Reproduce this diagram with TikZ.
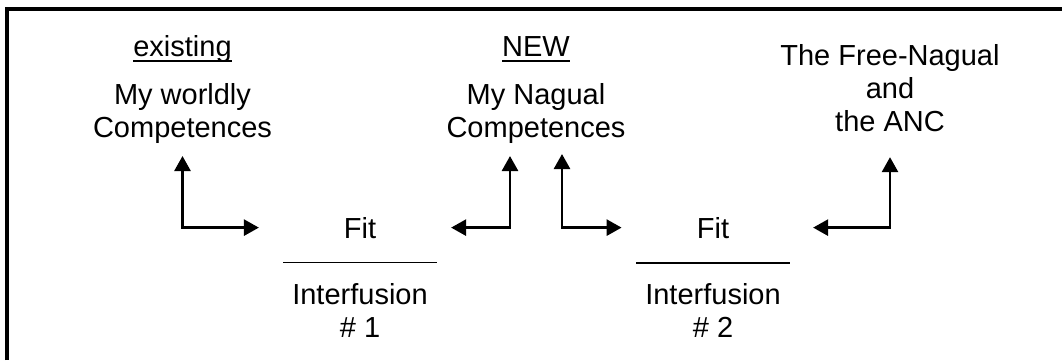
\documentclass[tikz,border=0pt]{standalone}
\usepackage{fontspec}
\setmainfont{Liberation Sans}
\usetikzlibrary{arrows.meta}
\begin{document}
\begin{tikzpicture}[x=1pt,y=-1pt,
  txt/.style={inner sep=0pt, outer sep=0pt, align=center, font=\fontsize{29}{33}\selectfont},
  uline/.style={line width=2pt},
  fracrule/.style={line width=1.8pt},
  frame/.style={line width=4pt},
  biarrow/.style={line width=2.7pt, {Triangle[length=15pt,width=16pt]}-{Triangle[length=15pt,width=16pt]}}]
\useasboundingbox (0,0) rectangle (1062,360);
\draw[frame] (7,360) -- (7,9) -- (1062,9);

\node[txt, anchor=base] (ex) at (182.5,56) {existing};
\draw[uline] ([yshift=-4.5pt]ex.base west) -- ([yshift=-4.5pt]ex.base east);
\node[txt] (wc) at (182.5,113) {My worldly\\Competences};

\node[txt, anchor=base] (new) at (536,56) {NEW};
\draw[uline] ([yshift=-4.5pt]new.base west) -- ([yshift=-4.5pt]new.base east);
\node[txt] (nc) at (536,113) {My Nagual\\Competences};

\node[txt] (fn) at (890,88.5) {The Free-Nagual\\and\\the ANC};

\node[txt, anchor=base] (fit1) at (360,238) {Fit};
\draw[fracrule] ([xshift=-77pt,yshift=-24.5pt]fit1.base) -- ([xshift=77pt,yshift=-24.5pt]fit1.base);
\node[txt] (if1) at (360,310) {Interfusion\\\# 1};

\node[txt, anchor=base] (fit2) at (713,238) {Fit};
\draw[fracrule] ([xshift=-77pt,yshift=-25pt]fit2.base) -- ([xshift=77pt,yshift=-25pt]fit2.base);
\node[txt] (if2) at (713,310) {Interfusion\\\# 2};

\draw[biarrow] ([yshift=-13pt]wc.south) |- ([xshift=-85pt]fit1.west);
\draw[biarrow] ([xshift=-26pt,yshift=-13pt]nc.south) |- ([xshift=75pt]fit1.east);
\draw[biarrow] ([xshift=26pt,yshift=-11pt]nc.south) |- ([xshift=-75.3pt]fit2.west);
\draw[biarrow] ([yshift=-25pt]fn.south) |- ([xshift=84pt]fit2.east);
\end{tikzpicture}
\end{document}
